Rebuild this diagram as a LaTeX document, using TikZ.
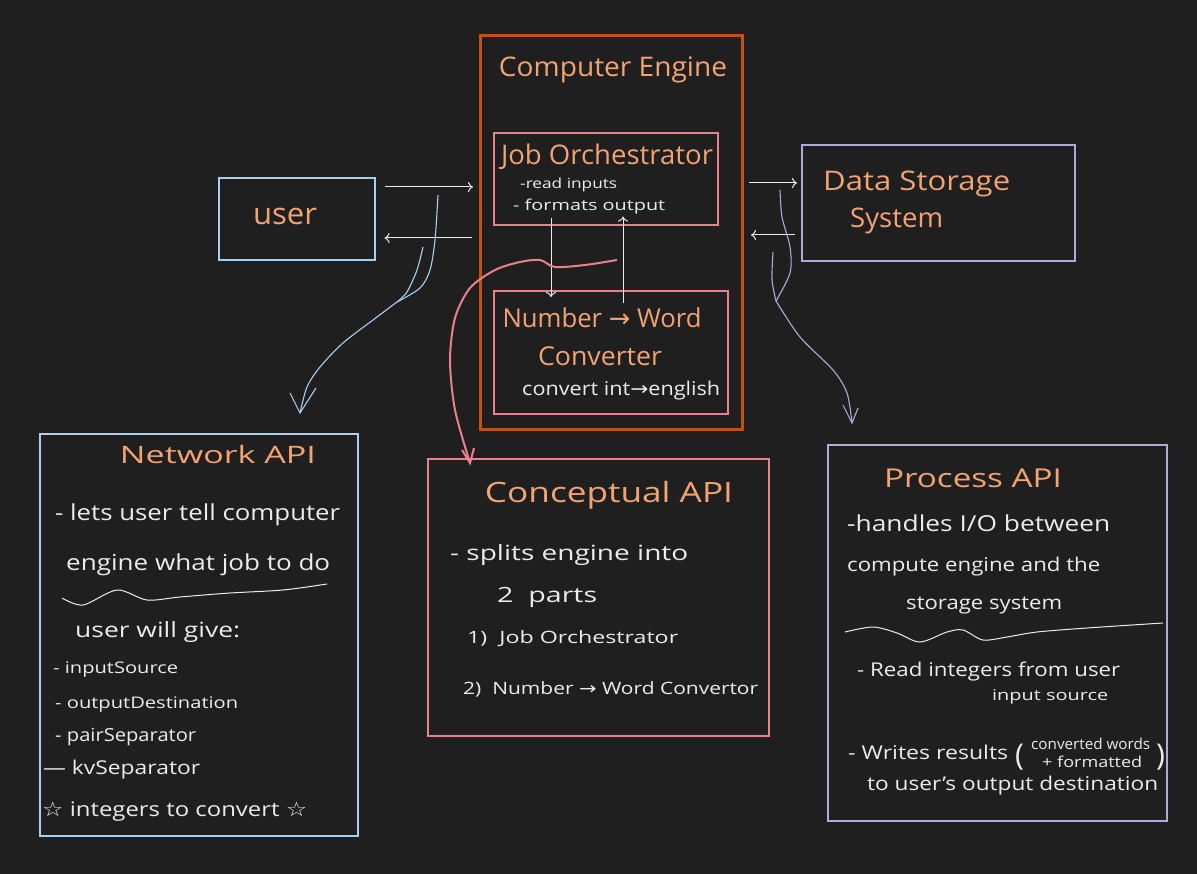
\documentclass[tikz,border=0pt]{standalone}
\usepackage{fontspec}
\usepackage{graphicx}
\setmainfont{Open Sans}
\newfontfamily\djv{DejaVu Sans}
\usetikzlibrary{arrows.meta,calc}
\definecolor{bg}{HTML}{201F1F}
\definecolor{engc}{HTML}{C2510E}
\definecolor{pinkc}{HTML}{E8808E}
\definecolor{bluec}{HTML}{A9CFEE}
\definecolor{lavc}{HTML}{B3A9D6}
\definecolor{orc}{HTML}{F2A374}
\definecolor{whc}{HTML}{ECECEC}
\newcommand{\fsz}[1]{\fontsize{#1}{#1}\selectfont}
\newcommand{\tw}[2]{\resizebox{#1pt}{\height}{#2}}
\newcommand{\ar}{{\djv →}}
\begin{document}
\begin{tikzpicture}[x=1pt,y=-1pt,
  boxb/.style={draw,line width=1.6pt,inner sep=0pt,anchor=north west},
  ttl/.style={text=orc,inner sep=0pt},
  txt/.style={text=whc,inner sep=0pt,anchor=west},
  arr/.style={draw=whc,line width=1pt,-{To[length=5pt,width=10pt]}},
  curv/.style={line width=1.1pt}
]
\useasboundingbox (0,0) rectangle (1197,874);
\fill[bg] (0,0) rectangle (1197,874);

% boxes
\node[boxb,draw=engc,line width=3pt,minimum width=262pt,minimum height=394pt] (engine) at (479,34) {};
\node[boxb,draw=pinkc,minimum width=224pt,minimum height=92pt] (job) at (493,132) {};
\node[boxb,draw=pinkc,minimum width=234pt,minimum height=123pt] (conv) at (493,290) {};
\node[boxb,draw=bluec,minimum width=156pt,minimum height=82pt] (user) at (218,177) {};
\node[boxb,draw=lavc,minimum width=273pt,minimum height=116pt] (store) at (801,144) {};
\node[boxb,draw=bluec,minimum width=318pt,minimum height=402pt] (net) at (39,433) {};
\node[boxb,draw=pinkc,minimum width=341pt,minimum height=277pt] (concept) at (427,458) {};
\node[boxb,draw=lavc,minimum width=339pt,minimum height=376pt] (proc) at (827,444) {};

% titles
\node[ttl,font=\fsz{27}] (tEng) at (613,70) {\tw{228}{Computer Engine}};
\node[ttl,font=\fsz{27}] (tJob) at (607,157) {\tw{212}{Job Orchestrator}};
\node[txt,font=\fsz{14}] (j1) at (520,185) {\tw{97}{-read inputs}};
\node[txt,font=\fsz{15}] (j2) at (513,207) {\tw{152}{- formats output}};
\node[ttl,font=\fsz{26}] (tNum) at (602,318) {\tw{199}{Number \ar\ Word}};
\node[ttl,font=\fsz{26}] (tConv) at (600,356) {\tw{124}{Converter}};
\node[txt,font=\fsz{19}] (c1) at (522,391) {\tw{198}{convert int\ar english}};
\node[ttl,font=\fsz{30}] (tUser) at (285,216) {\tw{64}{user}};
\node[ttl,font=\fsz{27},anchor=west] (tData) at (823,184) {\tw{187}{Data Storage}};
\node[ttl,font=\fsz{27},anchor=west] (tSys) at (850,221) {\tw{93}{System}};

% Network API
\node[ttl,font=\fsz{24}] (tNet) at (218,455) {\tw{196}{Network API}};
\node[txt,font=\fsz{22}] (n1) at (55,515) {\tw{285}{- lets user tell computer}};
\node[txt,font=\fsz{22}] (n2) at (66,565) {\tw{264}{engine what job to do}};
\node[txt,font=\fsz{21}] (n3) at (75,632) {\tw{165}{user will give:}};
\node[txt,font=\fsz{16}] (n4) at (53,670) {\tw{125}{- inputSource}};
\node[txt,font=\fsz{16}] (n5) at (55,705) {\tw{183}{- outputDestination}};
\node[txt,font=\fsz{18}] (n6) at (55,737) {\tw{141}{- pairSeparator}};
\node[txt,font=\fsz{19}] (n7) at (43,770) {\tw{157}{— kvSeparator}};
\node[txt,font=\fsz{20}] (n8) at (42,812) {\tw{265}{{\djv ☆}\ integers to convert {\djv ☆}}};
\draw[whc,line width=1pt] plot[smooth] coordinates {(62,598) (83,605) (117,590) (147,600) (180,597) (230,593) (283,590) (327,584)};

% Conceptual API
\node[ttl,font=\fsz{28}] (tCon) at (609,495) {\tw{248}{Conceptual API}};
\node[txt,font=\fsz{21}] (k1) at (450,555) {\tw{238}{- splits engine into}};
\node[txt,font=\fsz{21}] (k2) at (497,597) {\tw{100}{2 \ parts}};
\node[txt,font=\fsz{17}] (k3) at (467,639) {\tw{211}{1) \ Job Orchestrator}};
\node[txt,font=\fsz{17}] (k4) at (463,689) {\tw{295}{2) \ Number \ar\ Word Convertor}};

% Process API
\node[ttl,font=\fsz{26}] (tProc) at (973,478) {\tw{178}{Process API}};
\node[txt,font=\fsz{22}] (p1) at (847,523) {\tw{263}{-handles I/O between}};
\node[txt,font=\fsz{19}] (p2) at (847,567) {\tw{253}{compute engine and the}};
\node[txt,font=\fsz{19}] (p3) at (906,606) {\tw{156}{storage system}};
\draw[whc,line width=1pt] plot[smooth] coordinates {(845,632) (873,627) (897,633) (920,642) (947,632) (963,630) (983,640) (1007,637) (1037,632) (1087,628) (1163,623)};
\node[txt,font=\fsz{19}] (p4) at (857,672) {\tw{263}{- Read integers from user}};
\node[txt,font=\fsz{15}] (p5) at (992,697) {\tw{116}{input source}};
\node[txt,font=\fsz{19}] (p6) at (848,752) {\tw{160}{- Writes results}};
\node[txt,font=\fsz{30}] (p7a) at (1015,757) {(};
\node[txt,font=\fsz{15}] (p7b) at (1031,744) {\tw{119}{converted words}};
\node[txt,font=\fsz{15}] (p7c) at (1042,762) {\tw{100}{+ formatted}};
\node[txt,font=\fsz{30}] (p7d) at (1156,757) {)};
\node[txt,font=\fsz{19}] (p8) at (867,786) {\tw{291}{to user's output destination}};

% arrows
\draw[arr] ([xshift=9pt]user.east |- 0,187) -- ([xshift=-6pt]engine.west |- 0,187);
\draw[arr] ([xshift=-7pt]engine.west |- 0,238) -- ([xshift=9pt]user.east |- 0,238);
\draw[arr] ([xshift=5pt]engine.east |- 0,183) -- ([xshift=-4pt]store.west |- 0,183);
\draw[arr] ([xshift=-6pt]store.west |- 0,235) -- ([xshift=7pt]engine.east |- 0,235);
\draw[arr] ([yshift=8pt]job.south -| 551,0) -- ([yshift=-7pt]conv.north -| 551,0);
\draw[arr] ([yshift=-13pt]conv.north -| 623,0) -- ([yshift=9pt]job.south -| 623,0);

% curves
\coordinate (bA) at (438,195);
\coordinate (bB) at (423,247);
\coordinate (bJ) at (397,302);
\coordinate (bEnd) at (300,413);
\draw[bluec,curv] plot[smooth] coordinates {(bA) (435,240) (430,270) (420,288) (bJ)};
\draw[bluec,curv] plot[smooth] coordinates {(bB) (417,270) (407,292) (bJ)};
\draw[bluec,curv] plot[smooth] coordinates {(bJ) (373,320) (343,343) (320,367) (307,387) (bEnd)};
\draw[bluec,line width=1.1pt] (290,393) -- (bEnd) -- (316,388);

\coordinate (lA) at (780,190);
\coordinate (lB) at (773,252);
\coordinate (lJ) at (776,301);
\coordinate (lEnd) at (852,423);
\draw[lavc,curv] plot[smooth] coordinates {(lA) (782,217) (790,247) (790,273) (lJ)};
\draw[lavc,curv] plot[smooth] coordinates {(lB) (772,280) (lJ)};
\draw[lavc,curv] plot[smooth] coordinates {(lJ) (800,337) (833,370) (847,393) (lEnd)};
\draw[lavc,line width=1.1pt] (843,405) -- (lEnd) -- (858,408);

\coordinate (pS) at (617,260);
\coordinate (pEnd) at (470,463);
\draw[pinkc,line width=2pt] plot[smooth] coordinates {(pS) (585,265) (555,267) (540,260) (520,262) (495,270) (470,288) (455,318) (450,360) (455,410) (pEnd)};
\draw[pinkc,line width=2pt] (462,450) -- (pEnd) -- (474,448);
\end{tikzpicture}
\end{document}
